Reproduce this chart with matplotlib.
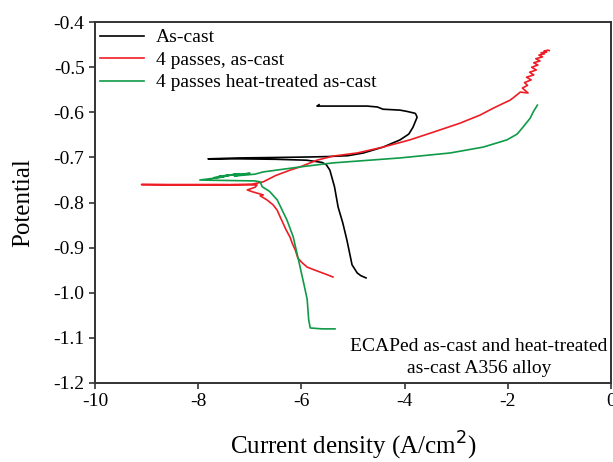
import matplotlib.pyplot as plt

plt.rcParams['font.family'] = ['Liberation Serif', 'DejaVu Serif']

# As-cast
cast_x = [-4.75, -4.85, -4.92, -5.02, -5.12, -5.20, -5.29, -5.36, -5.45, -5.52, -5.60,
          -5.90, -6.50, -7.20, -7.81, -7.20, -6.50, -5.90, -5.50, -5.10, -4.80, -4.42,
          -4.09, -3.92, -3.84, -3.76, -3.78, -3.80, -3.95, -4.09, -4.42, -4.53, -4.73,
          -5.20, -5.70, -5.66]
cast_y = [-0.967, -0.962, -0.956, -0.938, -0.883, -0.845, -0.810, -0.765, -0.728, -0.716,
          -0.711, -0.706, -0.704, -0.703, -0.703, -0.701, -0.700, -0.699, -0.698, -0.696,
          -0.690, -0.677, -0.661, -0.648, -0.633, -0.611, -0.605, -0.602, -0.598, -0.595,
          -0.593, -0.588, -0.586, -0.586, -0.586, -0.583]

# 4 passes, as-cast
ecap_x = [-5.39, -5.50, -5.64, -5.78, -5.89, -6.00, -6.07, -6.12, -6.18, -6.22, -6.30,
          -6.36, -6.42, -6.47, -6.55, -6.67, -6.80, -6.74, -6.95, -7.05, -6.90, -6.86,
          -7.50, -8.30, -9.10, -8.30, -7.50, -6.95, -6.74, -6.50, -6.22, -6.03, -5.70,
          -5.39, -4.92, -4.42, -3.90, -3.45, -2.93, -2.54, -2.29, -2.09, -1.96, -1.90,
          -1.76, -1.61, -1.72, -1.62, -1.68, -1.55, -1.64, -1.50, -1.58, -1.45, -1.54,
          -1.42, -1.50, -1.38, -1.46, -1.33, -1.40, -1.29, -1.36, -1.25, -1.30, -1.22,
          -1.20]
ecap_y = [-0.965, -0.960, -0.954, -0.948, -0.943, -0.932, -0.923, -0.905, -0.890, -0.877,
          -0.860, -0.845, -0.830, -0.817, -0.805, -0.794, -0.785, -0.783, -0.776, -0.772,
          -0.766, -0.761, -0.760, -0.760, -0.760, -0.761, -0.761, -0.759, -0.754, -0.740,
          -0.728, -0.721, -0.706, -0.697, -0.690, -0.677, -0.661, -0.644, -0.624, -0.606,
          -0.591, -0.580, -0.573, -0.568, -0.555, -0.557, -0.546, -0.540, -0.534, -0.528,
          -0.522, -0.517, -0.511, -0.506, -0.500, -0.495, -0.490, -0.486, -0.481, -0.477,
          -0.473, -0.470, -0.468, -0.466, -0.464, -0.462, -0.463]

# 4 passes heat-treated as-cast
heat_x = [-5.35, -5.60, -5.83, -5.86, -5.89, -5.97, -6.07, -6.16, -6.28, -6.47, -6.62,
          -6.76, -6.80, -6.90, -7.97, -7.50, -7.70, -7.30, -7.60, -7.20, -7.45, -7.00,
          -7.30, -6.90, -6.74, -6.03, -5.39, -4.09, -3.12, -2.48, -2.02, -1.82, -1.71,
          -1.57, -1.51, -1.43]
heat_y = [-1.080, -1.080, -1.078, -1.060, -1.014, -0.972, -0.921, -0.876, -0.839, -0.794,
          -0.775, -0.765, -0.754, -0.752, -0.750, -0.743, -0.745, -0.738, -0.742, -0.736,
          -0.740, -0.735, -0.741, -0.737, -0.732, -0.721, -0.712, -0.701, -0.690, -0.677,
          -0.661, -0.648, -0.633, -0.613, -0.599, -0.584]

fig, ax = plt.subplots(figsize=(6.13, 4.62), dpi=100)
fig.subplots_adjust(left=0.155, right=0.997, top=0.952, bottom=0.171)

ax.plot(cast_x, cast_y, color='black', lw=1.2, label='As-cast')
ax.plot(ecap_x, ecap_y, color='#ee1c24', lw=1.2, label='4 passes, as-cast')
ax.plot(heat_x, heat_y, color='#0f9a48', lw=1.2, label='4 passes heat-treated as-cast')

ax.set_xlim(-10, 0)
ax.set_ylim(-1.2, -0.4)
ax.set_xticks([-10, -8, -6, -4, -2, 0])
ax.set_xticklabels(['-10', '-8', '-6', '-4', '-2', '0'])
yt = [-1.2, -1.1, -1.0, -0.9, -0.8, -0.7, -0.6, -0.5, -0.4]
ax.set_yticks(yt)
ax.set_yticklabels(['%.1f' % v for v in yt])
ax.tick_params(labelsize=14, direction='out', length=4, width=1.2, color='#333333')
for s in ax.spines.values():
    s.set_linewidth(1.4)
    s.set_color('#333333')

ax.set_xlabel('Current density (A/cm$^2$)', fontsize=18, labelpad=14)
ax.set_ylabel('Potential', fontsize=18, labelpad=14)

ax.legend(loc='upper left', bbox_to_anchor=(-0.025, 1.03), frameon=False, fontsize=14,
          handlelength=2.3, labelspacing=0.25, handletextpad=0.6)

ax.text(0.744, 0.07, 'ECAPed as-cast and heat-treated\nas-cast A356 alloy',
        transform=ax.transAxes, ha='center', va='center', fontsize=14, linespacing=1.4)

plt.savefig('out.png')
